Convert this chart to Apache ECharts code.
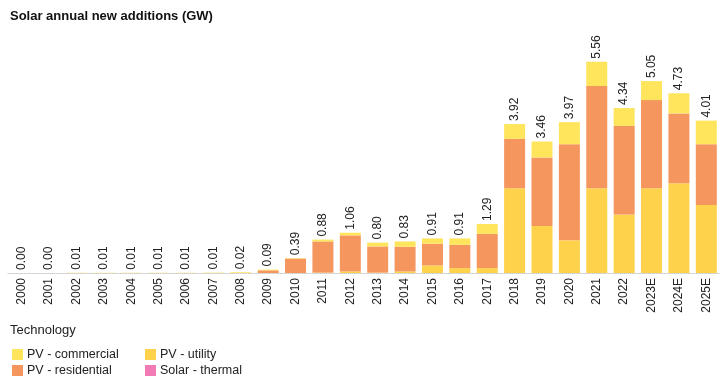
<!DOCTYPE html>
<html>
<head>
<meta charset="utf-8">
<script src="https://cdn.jsdelivr.net/npm/echarts@6/dist/echarts.min.js"></script>
<style>
html,body{margin:0;padding:0;background:#fff;}
#c{width:723px;height:388px;}
</style>
</head>
<body>
<div id="c"></div>
<script>
const categories = ['2000','2001','2002','2003','2004','2005','2006','2007','2008','2009','2010','2011','2012','2013','2014','2015','2016','2017','2018','2019','2020','2021','2022','2023E','2024E','2025E'];
const pvUtility =     [0,0,0,0,0,0,0,0,0,0,0,0.01,0.04,0.01,0.04,0.20,0.13,0.13,2.23,1.24,0.86,2.23,1.54,2.23,2.36,1.79];
const pvResidential = [0,0,0,0,0,0,0,0,0,0.07,0.38,0.82,0.95,0.69,0.65,0.57,0.61,0.90,1.30,1.80,2.53,2.69,2.33,2.32,1.84,1.60];
const pvCommercial =  [0,0,0.006,0.006,0.006,0.006,0.006,0.01,0.02,0.02,0.01,0.05,0.07,0.10,0.14,0.14,0.17,0.26,0.39,0.42,0.58,0.64,0.47,0.50,0.53,0.62];
const solarThermal =  [0,0,0,0,0,0,0,0,0,0,0,0,0,0,0,0,0,0,0,0,0,0,0,0,0,0];
const totals = categories.map((c,i)=>pvUtility[i]+pvResidential[i]+pvCommercial[i]+solarThermal[i]);

const chart = echarts.init(document.getElementById('c'));
const font = 'Liberation Sans, Arial, sans-serif';
function bar(name, data, color, withLabel){
  const s = {
    name, type:'bar', stack:'total', data, barWidth:21,
    itemStyle:{color},
    emphasis:{disabled:true},
    animation:false
  };
  if(withLabel){
    s.label = {
      show:true, position:'top', rotate:90, align:'left', verticalAlign:'middle',
      distance:3, fontSize:12, color:'#222', fontFamily:font,
      formatter:(p)=>totals[p.dataIndex].toFixed(2)
    };
  }
  return s;
}
chart.setOption({
  animation:false,
  textStyle:{fontFamily:font},
  title:{text:'Solar annual new additions (GW)', left:5, top:5,
    textStyle:{fontSize:13, fontWeight:'bold', color:'#111', fontFamily:font}},
  grid:{left:8, right:3, top:45, bottom:115},
  xAxis:{type:'category', data:categories,
    axisLine:{show:true, lineStyle:{color:'#ccc', type:'dotted', width:1}},
    axisTick:{show:false},
    axisLabel:{rotate:90, fontSize:12, color:'#222', margin:5, fontFamily:font, interval:0}},
  yAxis:{type:'value', min:0, max:6, show:false, splitLine:{show:false}},
  graphic:[{type:'text', left:10, top:324, style:{text:'Technology', fontSize:13, fill:'#222', fontFamily:font}}],
  legend:[
    {data:['PV - commercial','PV - residential'], orient:'vertical', left:12, top:348,
      itemWidth:11, itemHeight:11, itemGap:3, icon:'rect',
      textStyle:{fontSize:12.5, color:'#222', fontFamily:font, padding:[0,0,0,-1]}, padding:0},
    {data:['PV - utility','Solar - thermal'], orient:'vertical', left:145, top:348,
      itemWidth:11, itemHeight:11, itemGap:3, icon:'rect',
      textStyle:{fontSize:12.5, color:'#222', fontFamily:font, padding:[0,0,0,-1]}, padding:0}
  ],
  series:[
    bar('PV - utility', pvUtility, '#FFD24B', false),
    bar('Solar - thermal', solarThermal, '#F27BB5', false),
    bar('PV - residential', pvResidential, '#F5965F', false),
    bar('PV - commercial', pvCommercial, '#FFE55C', true)
  ]
});
</script>
</body>
</html>
